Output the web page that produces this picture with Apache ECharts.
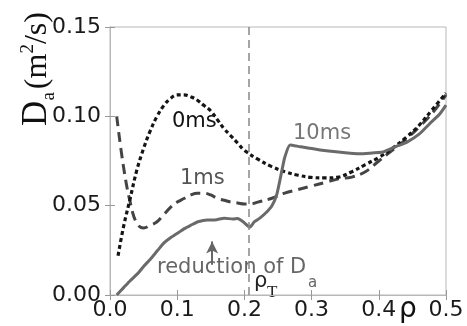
<!DOCTYPE html>
<html>
<head>
<meta charset="utf-8">
<script src="https://cdn.jsdelivr.net/npm/echarts@6/dist/echarts.min.js"></script>
<style>
  html, body { margin: 0; padding: 0; background: #fff; }
  #chart { width: 467px; height: 326px; }
</style>
</head>
<body>
<div id="chart"></div>
<script>
// rho values and D_a (m^2/s)
const rho0ms = [0.012, 0.02, 0.03, 0.04, 0.05, 0.06, 0.07, 0.08, 0.09, 0.10, 0.11, 0.12, 0.13, 0.14, 0.15, 0.16, 0.17, 0.18, 0.19, 0.20, 0.22, 0.24, 0.26, 0.28, 0.30, 0.32, 0.34, 0.36, 0.38, 0.40, 0.42, 0.44, 0.46, 0.48, 0.50];
const da0ms  = [0.022, 0.038, 0.054, 0.070, 0.082, 0.092, 0.100, 0.106, 0.110, 0.112, 0.112, 0.111, 0.109, 0.106, 0.103, 0.098, 0.093, 0.089, 0.085, 0.081, 0.076, 0.072, 0.069, 0.067, 0.0658, 0.0655, 0.066, 0.069, 0.073, 0.077, 0.082, 0.088, 0.095, 0.104, 0.113];

const rho1ms = [0.01, 0.02, 0.03, 0.04, 0.05, 0.06, 0.07, 0.08, 0.09, 0.10, 0.11, 0.12, 0.13, 0.14, 0.15, 0.16, 0.17, 0.18, 0.19, 0.20, 0.21, 0.22, 0.24, 0.26, 0.28, 0.30, 0.32, 0.34, 0.36, 0.38, 0.40, 0.42, 0.44, 0.46, 0.48, 0.50];
const da1ms  = [0.100, 0.072, 0.052, 0.040, 0.0375, 0.039, 0.041, 0.045, 0.049, 0.052, 0.054, 0.056, 0.057, 0.057, 0.056, 0.054, 0.053, 0.052, 0.0515, 0.051, 0.051, 0.052, 0.054, 0.057, 0.059, 0.061, 0.063, 0.065, 0.066, 0.069, 0.075, 0.081, 0.087, 0.094, 0.102, 0.112];

const rho10ms = [0.01, 0.02, 0.03, 0.042, 0.05, 0.06, 0.071, 0.08, 0.09, 0.101, 0.11, 0.12, 0.131, 0.145, 0.156, 0.17, 0.183, 0.19, 0.198, 0.208, 0.215, 0.223, 0.232, 0.241, 0.248, 0.256, 0.26, 0.268, 0.283, 0.3125, 0.34, 0.372, 0.39, 0.406, 0.425, 0.442, 0.46, 0.476, 0.49, 0.50];
const da10ms  = [0.0, 0.004, 0.008, 0.0123, 0.016, 0.020, 0.025, 0.029, 0.032, 0.0347, 0.037, 0.039, 0.041, 0.042, 0.042, 0.043, 0.0425, 0.0428, 0.041, 0.038, 0.041, 0.043, 0.046, 0.050, 0.056, 0.070, 0.077, 0.084, 0.083, 0.0812, 0.080, 0.079, 0.0795, 0.080, 0.083, 0.0856, 0.090, 0.096, 0.101, 0.1063];

const rhoT = 0.207;
const arrowRho = 0.152;
const arrowFrom = 0.017;
const arrowTo = 0.030;

const xTicks = [0, 0.1, 0.2, 0.3, 0.4, 0.5];
const yTicks = [0, 0.05, 0.10, 0.15];

const pair = (xs, ys) => xs.map((x, i) => [x, ys[i]]);

const chart = echarts.init(document.getElementById('chart'));

const tickFont = { color: '#1a1a1a', fontSize: 22, fontFamily: 'DejaVu Sans' };
const frame = '#b8b8b8';

const option = {
  animation: false,
  backgroundColor: '#fff',
  grid: { left: 110, right: 21, top: 27, bottom: 31, show: true, borderColor: frame, borderWidth: 1 },
  xAxis: [
    {
      type: 'value', min: xTicks[0], max: xTicks[xTicks.length - 1], interval: 0.1,
      axisLine: { lineStyle: { color: frame } },
      axisTick: { inside: true, length: 5, lineStyle: { color: '#999' } },
      splitLine: { show: false },
      axisLabel: { ...tickFont, margin: 4, formatter: v => v.toFixed(1) }
    },
    {
      type: 'value', position: 'top', min: xTicks[0], max: xTicks[xTicks.length - 1], interval: 0.1,
      axisLine: { lineStyle: { color: frame } },
      axisTick: { inside: true, length: 5, lineStyle: { color: '#999' } },
      splitLine: { show: false }, axisLabel: { show: false }
    }
  ],
  yAxis: [
    {
      type: 'value', min: yTicks[0], max: yTicks[yTicks.length - 1], interval: 0.05,
      axisLine: { show: true, lineStyle: { color: frame } },
      axisTick: { show: true, inside: true, length: 5, lineStyle: { color: '#999' } },
      splitLine: { show: false },
      axisLabel: { ...tickFont, margin: 9, formatter: v => v.toFixed(2) }
    },
    {
      type: 'value', position: 'right', min: yTicks[0], max: yTicks[yTicks.length - 1], interval: 0.05,
      axisLine: { show: true, lineStyle: { color: frame } },
      axisTick: { show: true, inside: true, length: 5, lineStyle: { color: '#999' } },
      splitLine: { show: false }, axisLabel: { show: false }
    }
  ],
  series: [
    {
      name: '0ms', type: 'line', data: pair(rho0ms, da0ms), smooth: 0.4, symbol: 'none',
      lineStyle: { color: '#151515', width: 3.2, type: [4, 3] }, z: 3
    },
    {
      name: '1ms', type: 'line', data: pair(rho1ms, da1ms), smooth: 0.4, symbol: 'none',
      lineStyle: { color: '#444', width: 3, type: [10, 6] }, z: 2
    },
    {
      name: '10ms', type: 'line', data: pair(rho10ms, da10ms), smooth: 0.2, symbol: 'none',
      lineStyle: { color: '#6a6a6a', width: 3 }, z: 4,
      markLine: {
        silent: true, animation: false,
        data: [
          [
            { coord: [rhoT, 0], symbol: 'none' },
            { coord: [rhoT, 0.15], symbol: 'none' }
          ],
          [
            { coord: [arrowRho, arrowFrom], symbol: 'none', lineStyle: { color: '#666', width: 2, type: 'solid' } },
            { coord: [arrowRho, arrowTo], symbol: 'arrow', symbolSize: [9, 12], lineStyle: { color: '#666', width: 2, type: 'solid' } }
          ]
        ],
        label: { show: false },
        lineStyle: { color: '#888', width: 1.5, type: [8, 5] }
      }
    }
  ],
  graphic: [
    // y axis name, rotated
    {
      type: 'text', x: 39, y: 69, rotation: Math.PI / 2,
      style: {
        text: '{d|D}{s|a}{u|(m}{p|2}{u|/s)}',
        align: 'center', verticalAlign: 'middle', fill: '#111',
        rich: {
          d: { fontFamily: 'Liberation Serif', fontSize: 35, fill: '#111', verticalAlign: 'bottom', padding: [0, 0, 5, 0] },
          s: { fontFamily: 'Liberation Serif', fontSize: 19, fill: '#111', verticalAlign: 'bottom', padding: [0, 3, 0, 0] },
          u: { fontFamily: 'Liberation Serif', fontSize: 32, fill: '#111', verticalAlign: 'bottom', padding: [0, 0, 5, 0] },
          p: { fontFamily: 'Liberation Serif', fontSize: 19, fill: '#111', verticalAlign: 'top' }
        }
      }
    },
    { type: 'text', x: 172, y: 122, style: { text: '0ms', fontFamily: 'DejaVu Sans', fontSize: 21, fill: '#111', verticalAlign: 'middle' } },
    { type: 'text', x: 180, y: 179, style: { text: '1ms', fontFamily: 'DejaVu Sans', fontSize: 21, fill: '#555', verticalAlign: 'middle' } },
    { type: 'text', x: 293, y: 134, style: { text: '10ms', fontFamily: 'DejaVu Sans', fontSize: 21, fill: '#777', verticalAlign: 'middle' } },
    { type: 'text', x: 157, y: 268, style: { text: 'reduction of D', fontFamily: 'DejaVu Sans', fontSize: 21, fill: '#666', verticalAlign: 'middle' } },
    { type: 'text', x: 308, y: 283, style: { text: 'a', fontFamily: 'DejaVu Sans', fontSize: 15, fill: '#666', verticalAlign: 'middle' } },
    { type: 'text', x: 254, y: 282, style: { text: 'ρ', fontFamily: 'DejaVu Sans', fontSize: 21, fill: '#222', verticalAlign: 'middle' } },
    { type: 'text', x: 267, y: 293, style: { text: 'T', fontFamily: 'Liberation Serif', fontSize: 17, fill: '#222', verticalAlign: 'middle' } },
    { type: 'text', x: 399, y: 310, style: { text: 'ρ', fontFamily: 'DejaVu Sans', fontSize: 28, fill: '#111', verticalAlign: 'middle' } }
  ]
};

chart.setOption(option);
</script>
</body>
</html>
